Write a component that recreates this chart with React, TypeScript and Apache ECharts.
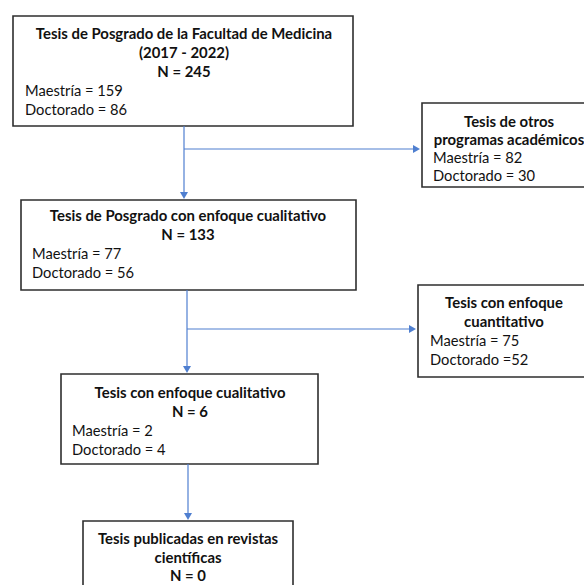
import React, { useEffect, useRef } from "react";
import * as echarts from "echarts";

// ---- data ----
const boxTitles: string[][] = [
  ["Tesis de Posgrado de la Facultad de Medicina", "(2017 - 2022)"],
  ["Tesis de otros", "programas académicos"],
  ["Tesis de Posgrado con enfoque cualitativo"],
  ["Tesis con enfoque", "cuantitativo"],
  ["Tesis con enfoque cualitativo"],
  ["Tesis publicadas en revistas", "científicas"],
];
const totals: (number | null)[] = [245, null, 133, null, 6, 0];
const maestria: (number | null)[] = [159, 82, 77, 75, 2, null];
const doctorado: (number | null)[] = [86, 30, 56, 52, 4, null];
const doctoradoSep: string[] = [" = ", " = ", " = ", " =", " = ", " = "];
// links: [from, to, kind]
const links: [number, number, string][] = [
  [0, 2, "down"],
  [0, 1, "side"],
  [2, 4, "down"],
  [2, 3, "side"],
  [4, 5, "down"],
];

// ---- layout ----
const boxes = [
  { x: 13, y: 16, w: 340, h: 110 },
  { x: 422, y: 103, w: 176, h: 84 },
  { x: 21, y: 200, w: 335, h: 90 },
  { x: 418, y: 285, w: 170, h: 92 },
  { x: 61, y: 374, w: 257, h: 90 },
  { x: 83, y: 521, w: 210, h: 80 },
];
const titleCenters = [184, 509, 188, 504, 190, 188];
const textLeft = [25, 433, 32, 430, 72, 0];
const firstLineY = [33, 120.5, 215, 302, 392, 538];
const lineH = [19, 18.3, 19, 19, 19, 18.5];
const stemX = [184, 187, 188];
const sideY = [149, 329];

const FONT = "Lato, 'Open Sans', sans-serif";
const TXT = "#111111";
const ARROW = "#4f7fd0";
const TITLE_SIZE = 14.9;
const BODY_SIZE = 14.7;

export default function App() {
  const ref = useRef<HTMLDivElement>(null);
  useEffect(() => {
    const chart = echarts.init(ref.current!, undefined, { renderer: "svg" });
    const els: any[] = [];
    boxes.forEach((b, i) => {
      els.push({
        type: "rect",
        shape: { x: b.x, y: b.y, width: b.w, height: b.h },
        style: { fill: "#fff", stroke: "#2e2e2e", lineWidth: 1.6 },
        z: 1,
      });
      let y = firstLineY[i];
      const lh = lineH[i];
      const centered: string[] = [...boxTitles[i]];
      if (totals[i] !== null) centered.push("N = " + totals[i]);
      centered.forEach((t) => {
        els.push({
          type: "text",
          z: 2,
          style: {
            text: t,
            x: titleCenters[i],
            y,
            align: "center",
            verticalAlign: "middle",
            fontFamily: FONT,
            fontSize: TITLE_SIZE,
            fontWeight: 700,
            fill: TXT,
          },
        });
        y += lh;
      });
      const left: string[] = [];
      if (maestria[i] !== null) left.push("Maestría = " + maestria[i]);
      if (doctorado[i] !== null) left.push("Doctorado" + doctoradoSep[i] + doctorado[i]);
      left.forEach((t) => {
        els.push({
          type: "text",
          z: 2,
          style: {
            text: t,
            x: textLeft[i],
            y,
            align: "left",
            verticalAlign: "middle",
            fontFamily: FONT,
            fontSize: BODY_SIZE,
            fontWeight: 400,
            fill: TXT,
          },
        });
        y += lh;
      });
    });
    let stemIdx = 0;
    let sideIdx = 0;
    const stemFor: Record<number, number> = {};
    links.forEach(([from, to, kind]) => {
      if (kind === "down") {
        const sx = stemX[stemIdx++];
        stemFor[from] = sx;
        const y1 = boxes[from].y + boxes[from].h;
        const y2 = boxes[to].y;
        els.push({
          type: "line",
          z: 3,
          shape: { x1: sx, y1, x2: sx, y2: y2 - 7 },
          style: { stroke: ARROW, lineWidth: 1.2 },
        });
        els.push({
          type: "polygon",
          z: 3,
          shape: { points: [[sx - 4, y2 - 8], [sx + 4, y2 - 8], [sx, y2 - 1]] },
          style: { fill: ARROW },
        });
      } else {
        const sx = stemFor[from];
        const sy = sideY[sideIdx++];
        const x2 = boxes[to].x;
        els.push({
          type: "line",
          z: 3,
          shape: { x1: sx, y1: sy, x2: x2 - 7, y2: sy },
          style: { stroke: ARROW, lineWidth: 1.2 },
        });
        els.push({
          type: "polygon",
          z: 3,
          shape: { points: [[x2 - 9, sy - 4], [x2 - 9, sy + 4], [x2 - 2, sy]] },
          style: { fill: ARROW },
        });
      }
    });
    chart.setOption({
      animation: false,
      backgroundColor: "#ffffff",
      graphic: { elements: els },
    });
    return () => chart.dispose();
  }, []);
  return (
    <div
      ref={ref}
      style={{ position: "fixed", left: 0, top: 0, width: 584, height: 585 }}
    />
  );
}
